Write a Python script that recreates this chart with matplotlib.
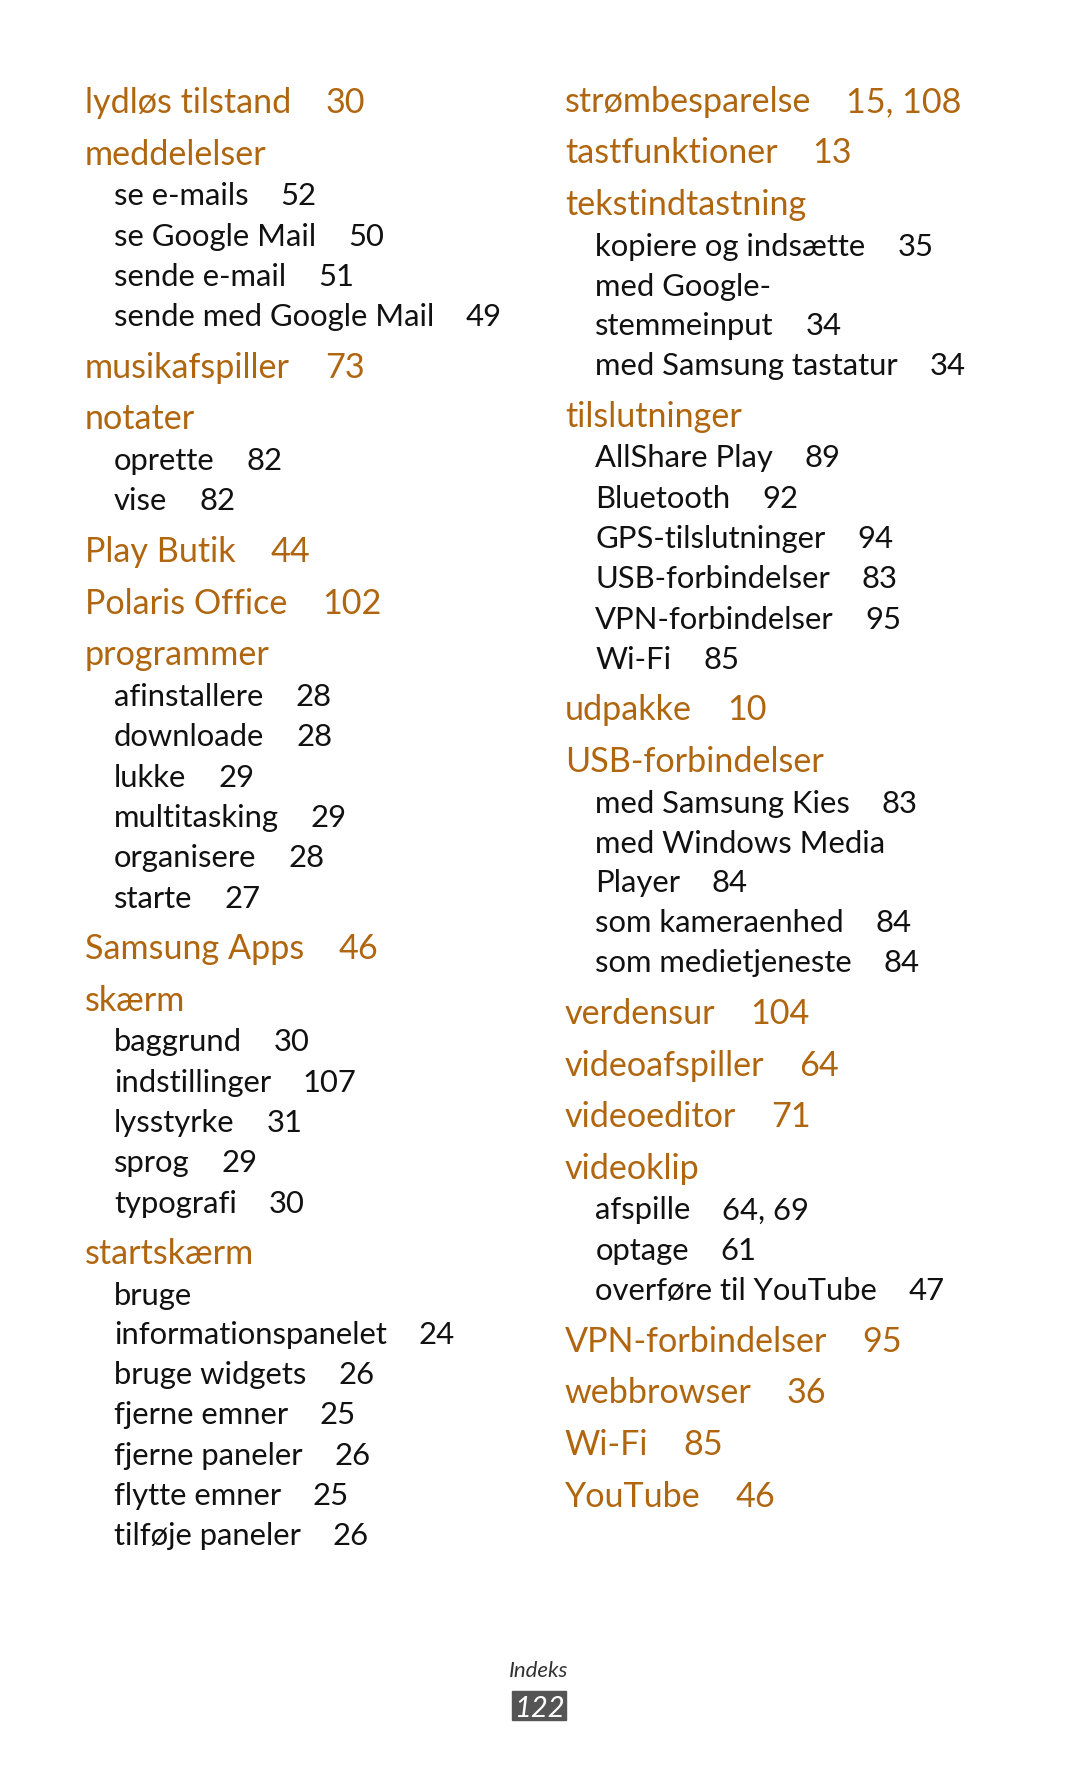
import matplotlib.pyplot as plt
from matplotlib.patches import Rectangle

# Indeks-side (venstre og højre kolonne)
# niveau 0 = hovedord, 1 = underord, 2 = fortsat linje
venstre_tekst = ['lydløs tilstand', 'meddelelser', 'se e-mails', 'se Google Mail', 'sende e-mail',
                 'sende med Google Mail', 'musikafspiller', 'notater', 'oprette', 'vise',
                 'Play Butik', 'Polaris Office', 'programmer', 'afinstallere', 'downloade',
                 'lukke', 'multitasking', 'organisere', 'starte', 'Samsung Apps', 'skærm',
                 'baggrund', 'indstillinger', 'lysstyrke', 'sprog', 'typografi', 'startskærm',
                 'bruge', 'informationspanelet', 'bruge widgets', 'fjerne emner',
                 'fjerne paneler', 'flytte emner', 'tilføje paneler']
venstre_niveau = [0, 0, 1, 1, 1, 1, 0, 0, 1, 1, 0, 0, 0, 1, 1, 1, 1, 1, 1, 0, 0,
                  1, 1, 1, 1, 1, 0, 1, 2, 1, 1, 1, 1, 1]
venstre_sider = ['30', '', '52', '50', '51', '49', '73', '', '82', '82', '44', '102', '',
                 '28', '28', '29', '29', '28', '27', '46', '', '30', '107', '31', '29', '30',
                 '', '', '24', '26', '25', '26', '25', '26']

hoejre_tekst = ['strømbesparelse', 'tastfunktioner', 'tekstindtastning', 'kopiere og indsætte',
                'med Google-', 'stemmeinput', 'med Samsung tastatur', 'tilslutninger',
                'AllShare Play', 'Bluetooth', 'GPS-tilslutninger', 'USB-forbindelser',
                'VPN-forbindelser', 'Wi-Fi', 'udpakke', 'USB-forbindelser', 'med Samsung Kies',
                'med Windows Media', 'Player', 'som kameraenhed', 'som medietjeneste',
                'verdensur', 'videoafspiller', 'videoeditor', 'videoklip', 'afspille', 'optage',
                'overføre til YouTube', 'VPN-forbindelser', 'webbrowser', 'Wi-Fi', 'YouTube']
hoejre_niveau = [0, 0, 0, 1, 1, 2, 1, 0, 1, 1, 1, 1, 1, 1, 0, 0, 1, 1, 2, 1, 1,
                 0, 0, 0, 0, 1, 1, 1, 0, 0, 0, 0]
hoejre_sider = ['15, 108', '13', '', '35', '', '34', '34', '', '89', '92', '94', '83', '95',
                '85', '10', '', '83', '', '84', '84', '84', '104', '64', '71', '', '64, 69',
                '61', '47', '95', '36', '85', '46']

side_nr = '122'
kapitel = 'Indeks'

orange = '#B0660F'
plt.rcParams['font.family'] = ['Lato', 'DejaVu Sans']

fig = plt.figure(figsize=(10.8, 17.71), dpi=100)
ax = fig.add_axes([0, 0, 1, 1])
ax.set_xlim(0, 956)
ax.set_ylim(1568, 0)
ax.axis('off')

fig.canvas.draw()
renderer = fig.canvas.get_renderer()


def tekst_bredde(t):
    bb = t.get_window_extent(renderer=renderer)
    return bb.width * 956 / 1080


def tegn_kolonne(x0, x1, y0, tekster, niveauer, sider):
    y = y0
    forrige = None
    for tekst, niv, side in zip(tekster, niveauer, sider):
        if forrige is not None:
            if niv == 0:
                y += 45.7
            elif niv == 2:
                y += 34.2
            elif forrige == 0:
                y += 36.0
            else:
                y += 35.7
        if niv == 0:
            farve, str_, x = orange, 24.6, x0
        else:
            farve, str_, x = '#111111', 22.3, x1
        t = ax.text(x, y, tekst, color=farve, fontsize=str_, va='baseline', ha='left')
        if side:
            b = tekst_bredde(t)
            ax.text(x + b + (31 if niv == 0 else 28), y, side, color=farve,
                    fontsize=str_, va='baseline', ha='left')
        forrige = niv


tegn_kolonne(75, 101, 100, venstre_tekst, venstre_niveau, venstre_sider)
tegn_kolonne(500, 527, 99, hoejre_tekst, hoejre_niveau, hoejre_sider)

# sidefod
ax.text(477, 1485, kapitel, fontsize=16, style='italic', color='#333333',
        ha='center', va='baseline')
ax.add_patch(Rectangle((453, 1497), 48, 26, color='#555555'))
ax.text(477, 1520, side_nr, fontsize=21, style='italic', color='white',
        ha='center', va='baseline')

plt.savefig('out.png', dpi=100)
